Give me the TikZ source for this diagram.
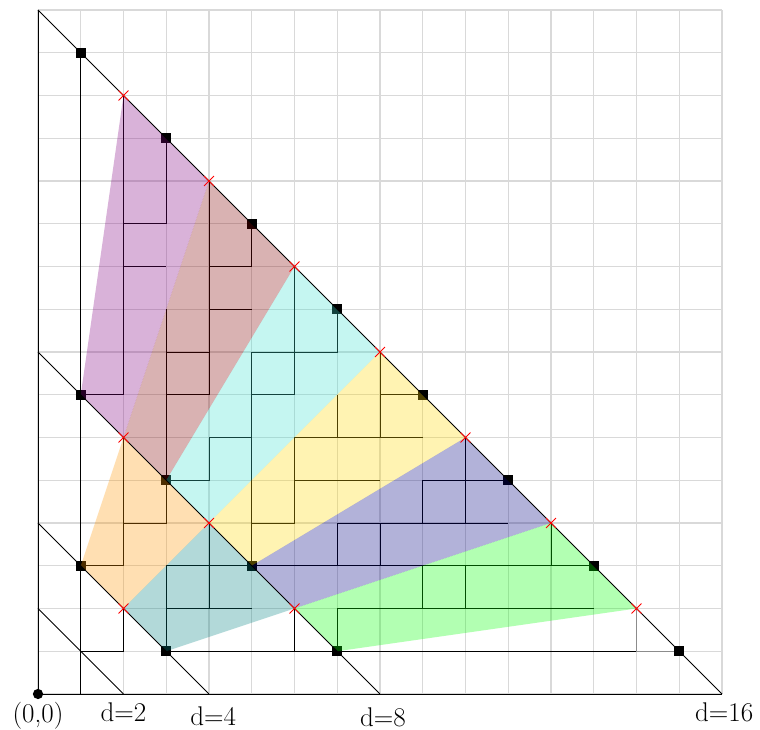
\documentclass[tikz,border=0pt]{standalone}
\usetikzlibrary{shapes.misc}
\definecolor{cPurple}{RGB}{128,0,128}
\definecolor{cMaroon}{RGB}{128,0,0}
\definecolor{cTurq}{RGB}{64,224,208}
\definecolor{cGold}{RGB}{255,215,0}
\definecolor{cNavy}{RGB}{0,0,128}
\definecolor{cLime}{RGB}{0,255,0}
\definecolor{cOrange}{RGB}{255,150,0}
\definecolor{cTeal}{RGB}{0,128,128}
\begin{document}
\begin{tikzpicture}[x=1cm,y=1cm,
  gridline/.style={gray!30,line width=0.8pt},
  axisline/.style={black,line width=0.6pt},
  diagline/.style={black,line width=0.6pt},
  pathline/.style={black,line width=0.55pt},
  lightpath/.style={black!45,line width=0.55pt},
  sqmark/.style={fill=black,inner sep=0pt,minimum size=6.5pt},
  crmark/.style={draw=red,cross out,inner sep=0pt,minimum size=6pt,line width=0.6pt},
  region/.style={fill opacity=0.3},
  lbl/.style={font=\fontsize{18}{21}\selectfont,anchor=north}]
\useasboundingbox (-0.889,-0.842) rectangle (16.889,16.234);
\draw[gridline] (0,0) grid (16,16);
% lattice paths
\draw[pathline] (1,0)--(1,15);
\draw[pathline] (2,14)--(2,7)--(1,7);
\draw[pathline] (3,13)--(3,11)--(2,11);
\draw[pathline] (2,10)--(3,10);
\draw[pathline] (3,9)--(3,4)--(2,4);
\draw[pathline] (4,12)--(4,7)--(3,7);
\draw[pathline] (3,8)--(4,8);
\draw[pathline] (5,11)--(5,10)--(4,10);
\draw[pathline] (4,9)--(5,9);
\draw[pathline] (6,10)--(6,7)--(5,7);
\draw[pathline] (7,9)--(7,8)--(5,8);
\draw[pathline] (5,8)--(5,3);
\draw[pathline] (5,6)--(4,6)--(4,5)--(3,5);
\draw[pathline] (2,6)--(2,3)--(1,3);
\draw[pathline] (2,2)--(2,1)--(1,1);
\draw[pathline] (4,4)--(4,2);
\draw[pathline] (3,3)--(3,1);
\draw[pathline] (3,2)--(5,2);
\draw[pathline] (3,3)--(13,3);
\draw[pathline] (6,2)--(6,1);
\draw[pathline] (3,1)--(14,1);
\draw[pathline] (7,1)--(7,2)--(13,2);
\draw[pathline] (9,2)--(9,3);
\draw[pathline] (10,2)--(10,3);
\draw[pathline] (12,3)--(12,4);
\draw[lightpath] (14,2)--(14,1)--(15,1);
\draw[pathline] (7,3)--(7,4)--(11,4);
\draw[pathline] (8,3)--(8,4);
\draw[pathline] (5,4)--(6,4)--(6,6);
\draw[pathline] (6,5)--(8,5);
\draw[pathline] (9,4)--(9,5)--(11,5);
\draw[pathline] (10,4)--(10,6);
\draw[pathline] (6,6)--(9,6);
\draw[pathline] (7,6)--(7,7);
\draw[pathline] (8,6)--(8,8);
\draw[pathline] (8,7)--(9,7);
% axes
\draw[axisline] (0,16)--(0,0)--(16,0);
% square marks
\foreach \x in {1,3,...,15} \node[sqmark] (s16-\x) at (\x,16-\x) {};
\foreach \x in {1,3,5,7} \node[sqmark] (s8-\x) at (\x,8-\x) {};
\foreach \x in {1,3} \node[sqmark] (s4-\x) at (\x,4-\x) {};
% coloured regions
\fill[region,cPurple] (1,7)--(2,14)--(4,12)--(2,6)--cycle;
\fill[region,cMaroon] (2,6)--(4,12)--(6,10)--(3,5)--cycle;
\fill[region,cTurq] (3,5)--(6,10)--(8,8)--(4,4)--cycle;
\fill[region,cGold] (4,4)--(8,8)--(10,6)--(5,3)--cycle;
\fill[region,cNavy] (5,3)--(10,6)--(12,4)--(6,2)--cycle;
\fill[region,cLime] (6,2)--(12,4)--(14,2)--(7,1)--cycle;
\fill[region,cOrange] (1,3)--(2,6)--(4,4)--(2,2)--cycle;
\fill[region,cTeal] (2,2)--(4,4)--(6,2)--(3,1)--cycle;
% diagonals
\foreach \d in {2,4,8,16} \draw[diagline] (0,\d)--(\d,0);
% cross marks
\foreach \x in {2,4,...,14} \node[crmark] (c16-\x) at (\x,16-\x) {};
\foreach \x in {2,4,6} \node[crmark] (c8-\x) at (\x,8-\x) {};
\node[crmark] (c4-2) at (2,2) {};
% origin
\fill (0,0) circle (0.12);
\node[lbl] (o) at (0,-0.06) {(0,0)};
\node[lbl] (l2) at (2,-0.08) {d=2};
\node[lbl] (l4) at (4.1,-0.18) {d=4};
\node[lbl] (l8) at (8.07,-0.2) {d=8};
\node[lbl] (l16) at (16.05,-0.08) {d=16};
\end{tikzpicture}
\end{document}
